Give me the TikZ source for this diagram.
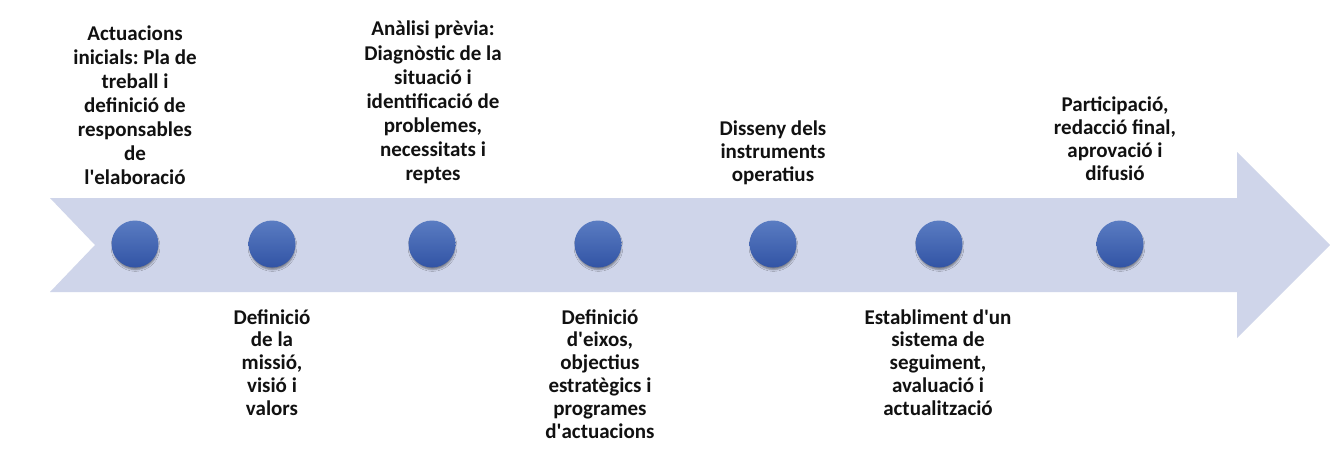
\documentclass[tikz,border=0pt]{standalone}
\usepackage{fontspec}
\setmainfont{Carlito}
\usetikzlibrary{shadows.blur}
\definecolor{arrowfill}{HTML}{CFD5EA}
\definecolor{dottop}{HTML}{5A7CC2}
\definecolor{dotbot}{HTML}{3254A5}
\definecolor{txt}{HTML}{111111}
\newcommand{\apos}{\textquotesingle}
\tikzset{
  dot/.style={circle, minimum size=47pt, inner sep=0pt, top color=dottop, bottom color=dotbot,
    blur shadow={shadow xshift=0.5pt, shadow yshift=-3pt, shadow scale=0.96, shadow blur radius=2pt, shadow opacity=45, shadow blur extra rounding=0pt}},
  lbl/.style={align=center, inner sep=0pt, text=txt, font=\bfseries\frenchspacing\fontsize{21}{22.8}\selectfont},
  toplbl/.style={lbl, anchor=south},
  botlbl/.style={lbl, anchor=north}
}
\begin{document}
\begin{tikzpicture}[x=1pt,y=-1pt]
\useasboundingbox (0,0) rectangle (1330,453);
\fill[white] (0,0) rectangle (1330,453);
% arrow band
\fill[arrowfill] (50,198) -- (1237,198) -- (1237,152) -- (1330,245) -- (1237,338) -- (1237,292) -- (50,292) -- (95,245) -- cycle;
% dots
\node[dot] (d1) at (135,244) {};
\node[dot] (d2) at (272,244) {};
\node[dot] (d3) at (432,244) {};
\node[dot] (d4) at (598,244) {};
\node[dot] (d5) at (773,244) {};
\node[dot] (d6) at (939,244) {};
\node[dot] (d7) at (1120,244) {};
% labels above
\node[toplbl, font=\bfseries\frenchspacing\fontsize{21}{24}\selectfont] (t1) at (135,192) {Actuacions\\inicials: Pla de\\treball i\\definició de\\responsables\\de\\l\apos elaboració\strut};
\node[toplbl, font=\bfseries\frenchspacing\fontsize{21}{24.1}\selectfont] (t3) at (433,188) {Anàlisi prèvia:\\Diagnòstic de la\\situació i\\identificació de\\problemes,\\necessitats i\\reptes\strut};
\node[toplbl, font=\bfseries\frenchspacing\fontsize{21}{22.6}\selectfont] (t5) at (773,188) {Disseny dels\\instruments\\operatius\strut};
\node[toplbl, font=\bfseries\frenchspacing\fontsize{21}{23}\selectfont] (t7) at (1115,188) {Participació,\\redacció final,\\aprovació i\\difusió\strut};
% labels below
\node[botlbl] (t2) at (272,308) {\strut Definició\\de la\\missió,\\visió i\\valors};
\node[botlbl] (t4) at (600,308) {\strut Definició\\d\apos eixos,\\objectius\\estratègics i\\programes\\d\apos actuacions};
\node[botlbl] (t6) at (938,308) {\strut Establiment d\apos un\\sistema de\\seguiment,\\avaluació i\\actualització};
\end{tikzpicture}
\end{document}
